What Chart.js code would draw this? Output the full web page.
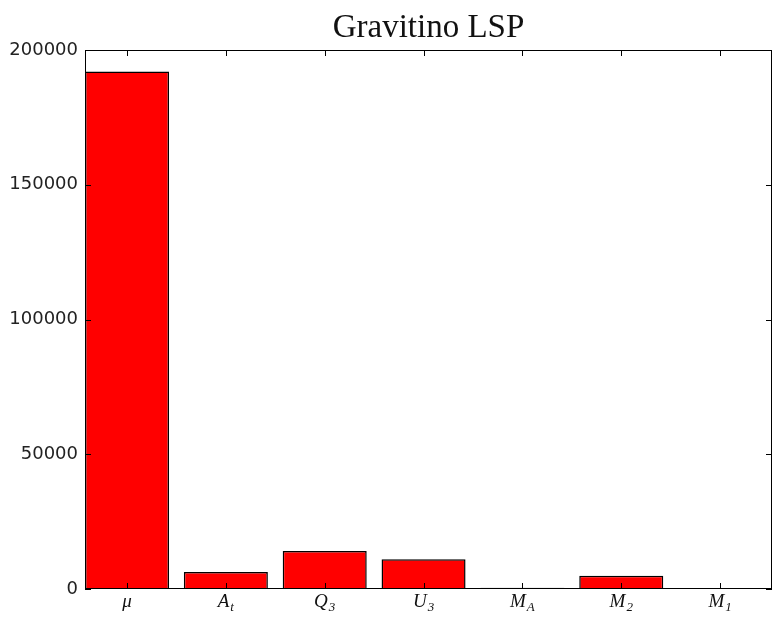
<!DOCTYPE html>
<html>
<head>
<meta charset="utf-8">
<script src="https://cdn.jsdelivr.net/npm/chart.js@4.4.1/dist/chart.umd.min.js"></script>
<style>
  html, body { margin: 0; padding: 0; background: #fff; }
  #wrap { width: 772px; height: 621px; }
</style>
</head>
<body>
<div id="wrap"><canvas id="chart" width="772" height="621"></canvas></div>
<script>
// parameter names: base letter + subscript
const paramNames = ["\u03bc", "A", "Q", "U", "M", "M", "M"];
const paramSubs = ["", "t", "3", "3", "A", "2", "1"];
const counts = [192000, 6300, 14100, 11000, 500, 4900, 150];
const yTicks = [0, 50000, 100000, 150000, 200000];
const chartTitle = "Gravitino LSP";

let points = counts.map((v, i) => ({ x: i, y: v }));

// frame, inward ticks, title and math-style x labels
const decorations = {
    id: 'decorations',
    afterDraw(chart) {
        let ctx = chart.ctx;
        let a = chart.chartArea;
        let xs = chart.scales.x;
        let ys = chart.scales.y;
        ctx.save();
        ctx.strokeStyle = '#000';
        ctx.lineWidth = 1;
        ctx.strokeRect(a.left + 0.5, a.top + 0.5, a.right - a.left - 1, a.bottom - a.top - 1);

        ctx.beginPath();
        paramNames.forEach((n, i) => {
            let px = Math.round(xs.getPixelForValue(i)) + 0.5;
            ctx.moveTo(px, a.bottom); ctx.lineTo(px, a.bottom - 6);
            ctx.moveTo(px, a.top); ctx.lineTo(px, a.top + 6);
        });
        yTicks.forEach(v => {
            let py = Math.round(ys.getPixelForValue(v)) + 0.5;
            ctx.moveTo(a.left, py); ctx.lineTo(a.left + 6, py);
            ctx.moveTo(a.right, py); ctx.lineTo(a.right - 6, py);
        });
        ctx.stroke();

        ctx.fillStyle = '#111';
        ctx.textBaseline = 'alphabetic';
        ctx.textAlign = 'center';
        ctx.font = '33px "Liberation Serif", serif';
        ctx.fillText(chartTitle, (a.left + a.right) / 2, 37);

        paramNames.forEach((n, i) => {
            let px = xs.getPixelForValue(i);
            ctx.font = 'italic 19px "Liberation Serif", serif';
            let w1 = ctx.measureText(n).width;
            ctx.font = 'italic 13px "Liberation Serif", serif';
            let w2 = paramSubs[i] ? ctx.measureText(paramSubs[i]).width + 1 : 0;
            let x0 = px - (w1 + w2) / 2;
            ctx.textAlign = 'left';
            ctx.font = 'italic 19px "Liberation Serif", serif';
            ctx.fillText(n, x0, 607);
            if (paramSubs[i]) {
                ctx.font = 'italic 13px "Liberation Serif", serif';
                ctx.fillText(paramSubs[i], x0 + w1 + 1, 611);
            }
        });
        ctx.restore();
    }
};

new Chart(document.getElementById('chart').getContext('2d'), {
    type: 'bar',
    data: {
        datasets: [{
            data: points,
            backgroundColor: '#ff0000',
            borderColor: '#000',
            borderWidth: 1.5,
            barPercentage: 1.0,
            categoryPercentage: 0.85
        }]
    },
    options: {
        responsive: false,
        animation: false,
        layout: { padding: { top: 50, right: 0, bottom: 0, left: 0 } },
        plugins: {
            legend: { display: false },
            title: { display: false },
            tooltip: { enabled: false }
        },
        scales: {
            x: {
                type: 'linear',
                offset: false,
                min: -0.425,
                max: 6.525,
                afterBuildTicks: scale => { scale.ticks = paramNames.map((n, i) => ({ value: i })); },
                afterFit: scale => { scale.height = 32; },
                grid: { display: false },
                border: { display: false },
                ticks: { display: false }
            },
            y: {
                min: 0,
                max: 200000,
                afterBuildTicks: scale => { scale.ticks = yTicks.map(v => ({ value: v })); },
                afterFit: scale => { scale.width = 85; },
                grid: { display: false, drawTicks: false, tickLength: 0 },
                border: { display: false },
                ticks: {
                    color: '#222',
                    padding: 7,
                    font: { family: 'DejaVu Sans', size: 18 },
                    callback: v => String(v)
                }
            }
        }
    },
    plugins: [decorations]
});
</script>
</body>
</html>
